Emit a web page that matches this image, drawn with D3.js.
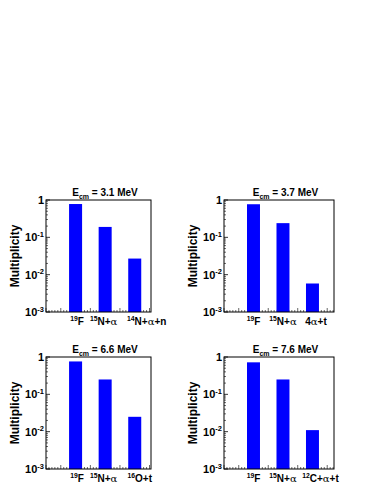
<!DOCTYPE html>
<html><head><meta charset="utf-8">
<script src="https://cdn.jsdelivr.net/npm/d3@7"></script>
<style>
html,body{margin:0;padding:0;background:#fff;}
svg{display:block;}
text{font-family:"Liberation Sans",Arial,Helvetica,sans-serif;font-weight:bold;fill:#000;}
</style></head><body>
<svg id="c" width="383" height="495"></svg>
<script>
// ---- data ----
const energies = ["3.1", "3.7", "6.6", "7.6"];
const labels1 = ["^{19}F", "^{15}N+α", "^{14}N+α+n"];
const labels2 = ["^{19}F", "^{15}N+α", "4α+t"];
const labels3 = ["^{19}F", "^{15}N+α", "^{16}O+t"];
const labels4 = ["^{19}F", "^{15}N+α", "^{12}C+α+t"];
const values1 = [0.78, 0.19, 0.027];
const values2 = [0.77, 0.24, 0.0058];
const values3 = [0.76, 0.25, 0.025];
const values4 = [0.72, 0.25, 0.011];
const yTicks = [1e-3, 1e-2, 1e-1, 1];
const yTickLabels = ["10^{-3}", "10^{-2}", "10^{-1}", "1"];
const yTitle = "Multiplicity";

// ---- layout ----
const panels = [
  {labels: labels1, values: values1, e: energies[0], left: 46, right: 151, top: 200, bottom: 312, xMax: 3.55, titleDx: 6.5, labDx: [1.5, -1.5, 12]},
  {labels: labels2, values: values2, e: energies[1], left: 224, right: 334, top: 200, bottom: 312, xMax: 3.73, titleDx: 6.5, labDx: [0, 0, 3.5]},
  {labels: labels3, values: values3, e: energies[2], left: 46, right: 151, top: 357, bottom: 469, xMax: 3.55, titleDx: 6.5, labDx: [1.5, -1.5, 5]},
  {labels: labels4, values: values4, e: energies[3], left: 224, right: 334, top: 357, bottom: 469, xMax: 3.73, titleDx: 6.5, labDx: [0, 0, 8]}
];

const svg = d3.select("#c");

// render rich label with ^{sup} and α
function rich(sel, str, size) {
  const parts = [];
  const re = /\^\{([^}]*)\}|α|[^\^α]+/g;
  let m;
  while ((m = re.exec(str)) !== null) {
    if (m[1] !== undefined) parts.push({t: m[1], sup: true});
    else if (m[0] === "α") parts.push({t: "α", alpha: true});
    else parts.push({t: m[0]});
  }
  let prevSup = false;
  parts.forEach(p => {
    const ts = sel.append("tspan").text(p.t);
    if (p.sup) {
      ts.attr("font-size", size * 0.68).attr("dy", -size * 0.38);
      prevSup = true;
    } else {
      ts.attr("font-size", size);
      if (prevSup) { ts.attr("dy", size * 0.38); prevSup = false; }
      if (p.alpha) ts.style("font-family", "'DejaVu Serif','Liberation Serif',serif").style("font-weight", "normal");
    }
  });
}

panels.forEach(p => {
  const g = svg.append("g");
  const x = d3.scaleLinear().domain([0, p.xMax]).range([p.left, p.right]);
  const y = d3.scaleLog().domain([1e-3, 1]).range([p.bottom, p.top]);

  // x axis ticks (inward)
  const xt = d3.range(0, p.xMax + 1e-9, 0.1);
  g.selectAll("line.xt").data(xt).enter().append("line")
    .attr("x1", d => x(d)).attr("x2", d => x(d))
    .attr("y1", p.bottom)
    .attr("y2", d => Math.abs(d * 2 - Math.round(d * 2)) < 1e-6 ? p.bottom - 4 : p.bottom - 2)
    .attr("stroke", "#000").attr("stroke-width", 0.6);

  // bars
  g.selectAll("rect.bar").data(p.values).enter().append("rect")
    .attr("x", (d, i) => x(i + 1 - 0.22))
    .attr("width", x(0.44) - x(0))
    .attr("y", d => y(d))
    .attr("height", d => y(1e-3) - y(d))
    .attr("fill", "#0000ff");

  // y axis minor/major ticks (inward)
  const minor = [];
  for (let k = -3; k < 0; k++) for (let m = 2; m <= 9; m++) minor.push(m * Math.pow(10, k));
  g.selectAll("line.ym").data(minor).enter().append("line")
    .attr("x1", p.left).attr("x2", p.left + 2)
    .attr("y1", d => y(d)).attr("y2", d => y(d))
    .attr("stroke", "#000").attr("stroke-width", 0.6);
  g.selectAll("line.yM").data(yTicks).enter().append("line")
    .attr("x1", p.left).attr("x2", p.left + 4)
    .attr("y1", d => y(d)).attr("y2", d => y(d))
    .attr("stroke", "#000").attr("stroke-width", 0.8);

  // frame
  g.append("rect").attr("x", p.left).attr("y", p.top)
    .attr("width", p.right - p.left).attr("height", p.bottom - p.top)
    .attr("fill", "none").attr("stroke", "#000").attr("stroke-width", 1);

  // y tick labels
  yTicks.forEach((t, i) => {
    const tx = g.append("text").attr("x", p.left - 2).attr("y", y(t) + 4)
      .attr("text-anchor", "end");
    rich(tx, yTickLabels[i], 11);
  });

  // y title
  g.append("text")
    .attr("transform", `translate(${p.left - 27},${(p.top + p.bottom) / 2}) rotate(-90)`)
    .attr("text-anchor", "middle").attr("font-size", 12).text(yTitle);

  // title
  const tt = g.append("text").attr("x", (p.left + p.right) / 2 + p.titleDx).attr("y", p.top - 4)
    .attr("text-anchor", "middle").attr("font-size", 10);
  tt.append("tspan").text("E");
  tt.append("tspan").text("cm").attr("font-size", 7).attr("dy", 2.5);
  tt.append("tspan").text(" = " + p.e + " MeV").attr("dy", -2.5);

  // category labels
  p.labels.forEach((l, i) => {
    const lt = g.append("text").attr("x", x(i + 1) + p.labDx[i]).attr("y", p.bottom + 13)
      .attr("text-anchor", "middle");
    rich(lt, l, 10);
  });
});
</script></body></html>
